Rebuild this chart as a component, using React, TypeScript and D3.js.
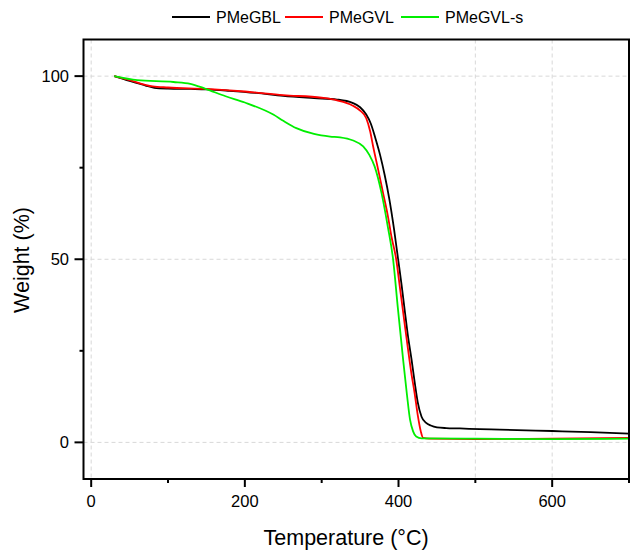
import React from "react";
import * as d3 from "d3";

// TGA curves (temperature in °C, weight in %)
const gblTemp = [30, 50, 70, 82, 100, 130, 150, 180, 215, 250, 290, 320, 340, 350, 358, 364, 370, 376, 382, 388, 394, 399.5, 404, 408, 412, 417, 421, 425, 430, 436, 442, 450, 462, 480, 506, 532, 600, 650, 700];
const gblWeight = [100, 98.7, 97.5, 96.8, 96.6, 96.5, 96.4, 96.0, 95.4, 94.6, 94.0, 93.6, 92.7, 91.5, 89.5, 87.0, 83.0, 78.5, 73.0, 66.5, 58.5, 50.0, 43.0, 36.2, 29.5, 22.6, 16.5, 11.0, 7.0, 5.3, 4.6, 4.1, 3.9, 3.8, 3.6, 3.5, 3.1, 2.8, 2.4];

const gvlTemp = [30, 50, 80, 100, 150, 200, 250, 300, 320, 340, 350, 358, 363, 367, 374, 380, 386, 391, 397, 402, 407, 412, 417, 421, 425, 429, 432, 440, 500, 600, 700];
const gvlWeight = [100, 98.9, 97.2, 96.9, 96.5, 95.8, 94.8, 94.1, 93.4, 92.0, 90.6, 88.5, 85.0, 80.8, 74.0, 68.0, 62.0, 56.0, 50.0, 42.0, 34.0, 26.0, 18.5, 13.4, 7.5, 3.0, 1.2, 1.0, 0.9, 1.0, 1.2];

const gvlsTemp = [30, 60, 107, 129, 148, 175, 200, 237, 250, 267, 290, 311, 324, 340, 354, 362, 369, 378, 386, 393, 399, 406, 411, 415, 419, 423, 430, 500, 600, 700];
const gvlsWeight = [100, 98.9, 98.4, 97.9, 96.6, 94.5, 92.8, 89.5, 87.8, 85.8, 84.2, 83.5, 83.3, 82.5, 80.8, 78.5, 75.3, 68.0, 59.0, 49.9, 37.0, 22.6, 13.0, 6.2, 3.0, 1.6, 1.1, 1.0, 0.9, 1.0];

const seriesNames = ["PMeGBL", "PMeGVL", "PMeGVL-s"];
const seriesColors = ["#000000", "#ff0000", "#00ee00"];

const xMajor = [0, 200, 400, 600];
const xMinor = [100, 300, 500, 700];
const yMajor = [0, 50, 100];
const yMinor = [25, 75];
const xGrid = [0, 500, 600];
const yGrid = [0, 50, 100];

const W = 630, H = 550;
const left = 83.5, right = 629, top = 39.5, bottom = 479;
const font = "'Liberation Sans', Arial, sans-serif";

export default function App() {
  const x = d3.scaleLinear().domain([-10, 700]).range([left, right]);
  const y = d3.scaleLinear().domain([-10, 110]).range([bottom, top]);

  const series = [
    gblTemp.map((t, i) => [t, gblWeight[i]]),
    gvlTemp.map((t, i) => [t, gvlWeight[i]]),
    gvlsTemp.map((t, i) => [t, gvlsWeight[i]]),
  ];
  const line = d3.line<number[]>()
    .x(d => x(d[0]))
    .y(d => y(d[1]))
    .curve(d3.curveMonotoneX);

  // legend spots (line start)
  const legendX = [172, 285, 401];
  const legendY = 17;

  return (
    <div style={{ position: "absolute", left: 0, top: 0 }}>
      <svg width={W} height={H} style={{ display: "block", background: "#fff" }}>
        <defs>
          <clipPath id="plot">
            <rect x={left} y={top} width={right - left} height={bottom - top} />
          </clipPath>
        </defs>

        {/* grid */}
        {xGrid.map(v => (
          <line key={"gx" + v} x1={x(v)} x2={x(v)} y1={top} y2={bottom}
            stroke="#d8d8d8" strokeWidth={1} strokeDasharray="4,3" />
        ))}
        {yGrid.map(v => (
          <line key={"gy" + v} x1={left} x2={right} y1={y(v)} y2={y(v)}
            stroke="#d8d8d8" strokeWidth={1} strokeDasharray="4,3" />
        ))}

        {/* curves */}
        <g clipPath="url(#plot)">
          {series.map((s, i) => (
            <path key={i} d={line(s) || ""} fill="none" stroke={seriesColors[i]} strokeWidth={1.8} />
          ))}
        </g>

        {/* frame */}
        <rect x={left} y={top} width={right - left} height={bottom - top}
          fill="none" stroke="#000" strokeWidth={2} />

        {/* x ticks */}
        {xMajor.map(v => (
          <g key={"xt" + v}>
            <line x1={x(v)} x2={x(v)} y1={bottom} y2={bottom + 8} stroke="#000" strokeWidth={2} />
            <text x={x(v)} y={507} textAnchor="middle" fontFamily={font} fontSize={16.5} fill="#000">{v}</text>
          </g>
        ))}
        {xMinor.map(v => (
          <line key={"xm" + v} x1={x(v)} x2={x(v)} y1={bottom} y2={bottom + 4} stroke="#000" strokeWidth={2} />
        ))}

        {/* y ticks */}
        {yMajor.map(v => (
          <g key={"yt" + v}>
            <line x1={left - 9} x2={left} y1={y(v)} y2={y(v)} stroke="#000" strokeWidth={2} />
            <text x={69} y={y(v)} dy="0.35em" textAnchor="end" fontFamily={font} fontSize={16.5} fill="#000">{v}</text>
          </g>
        ))}
        {yMinor.map(v => (
          <line key={"ym" + v} x1={left - 4} x2={left} y1={y(v)} y2={y(v)} stroke="#000" strokeWidth={2} />
        ))}

        {/* axis titles */}
        <text x={(x(0) + x(700)) / 2 - 14} y={545} textAnchor="middle" fontFamily={font} fontSize={21.5} fill="#000">
          Temperature (°C)
        </text>
        <text transform="translate(29,260) rotate(-90)" textAnchor="middle" fontFamily={font} fontSize={21.5} fill="#000">
          Weight (%)
        </text>

        {/* legend */}
        {seriesNames.map((n, i) => (
          <g key={n}>
            <line x1={legendX[i]} x2={legendX[i] + 38} y1={legendY} y2={legendY}
              stroke={seriesColors[i]} strokeWidth={2} />
            <text x={legendX[i] + 44} y={legendY} dy="0.35em" fontFamily={font} fontSize={16} fill="#000">{n}</text>
          </g>
        ))}
      </svg>
    </div>
  );
}
